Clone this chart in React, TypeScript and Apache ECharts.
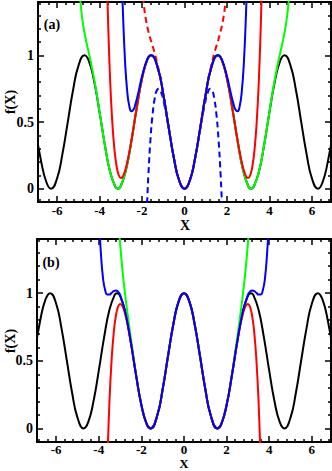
import React, { useEffect, useRef } from "react";
import * as echarts from "echarts";

type Pt = [number, number];

const xMajorTicks = [-6, -4, -2, 0, 2, 4, 6];
const xMinorTicks = [-6.8, -6.4, -5.6, -5.2, -4.8, -4.4, -3.6, -3.2, -2.8, -2.4, -1.6, -1.2, -0.8, -0.4, 0.4, 0.8, 1.2, 1.6, 2.4, 2.8, 3.2, 3.6, 4.4, 4.8, 5.2, 5.6, 6.4, 6.8];
const yMajorTicks = [0, 0.5, 1];
const yMinorTicks = [0.1, 0.2, 0.3, 0.4, 0.6, 0.7, 0.8, 0.9, 1.1, 1.2, 1.3];

// ---------- Panel (a) ----------
const blackA: Pt[] = [
  [-7, 0.4316], [-6.75, 0.2025], [-6.5, 0.0463], [-6.2832, 0], [-6, 0.0781], [-5.75, 0.2601], [-5.5, 0.4977], [-5.25, 0.7377], [-5, 0.9195], [-4.7124, 1], [-4.5, 0.9555], [-4.25, 0.801], [-4, 0.5728], [-3.75, 0.3267], [-3.5, 0.1231], [-3.25, 0.0117], [-3.1416, 0], [-3, 0.0199], [-2.75, 0.1457], [-2.5, 0.3582], [-2.25, 0.6054], [-2, 0.8268], [-1.75, 0.9683], [-1.5708, 1], [-1.25, 0.9006], [-1, 0.7081], [-0.75, 0.4646], [-0.5, 0.2298], [-0.25, 0.0612],
  [0, 0],
  [0.25, 0.0612], [0.5, 0.2298], [0.75, 0.4646], [1, 0.7081], [1.25, 0.9006], [1.5708, 1], [1.75, 0.9683], [2, 0.8268], [2.25, 0.6054], [2.5, 0.3582], [2.75, 0.1457], [3, 0.0199], [3.1416, 0], [3.25, 0.0117], [3.5, 0.1231], [3.75, 0.3267], [4, 0.5728], [4.25, 0.801], [4.5, 0.9555], [4.7124, 1], [5, 0.9195], [5.25, 0.7377], [5.5, 0.4977], [5.75, 0.2601], [6, 0.0781], [6.2832, 0], [6.5, 0.0463], [6.75, 0.2025], [7, 0.4316],
];

const greenA: Pt[] = [
  [-5, 1.6161], [-4.9, 1.3965], [-4.8, 1.2567], [-4.7, 1.1602], [-4.6, 1.0836], [-4.5, 1.0126], [-4.4, 0.939], [-4.2, 0.7707], [-4, 0.5763], [-3.75, 0.3274], [-3.5, 0.1231], [-3.25, 0.0117], [-3.1416, 0], [-3, 0.0199], [-2.75, 0.1457], [-2.5, 0.3582], [-2.25, 0.6054], [-2, 0.8268], [-1.75, 0.9683], [-1.5708, 1], [-1.25, 0.9006], [-1, 0.7081], [-0.75, 0.4646], [-0.5, 0.2298], [-0.25, 0.0612],
  [0, 0],
  [0.25, 0.0612], [0.5, 0.2298], [0.75, 0.4646], [1, 0.7081], [1.25, 0.9006], [1.5708, 1], [1.75, 0.9683], [2, 0.8268], [2.25, 0.6054], [2.5, 0.3582], [2.75, 0.1457], [3, 0.0199], [3.1416, 0], [3.25, 0.0117], [3.5, 0.1231], [3.75, 0.3274], [4, 0.5763], [4.2, 0.7707], [4.4, 0.939], [4.5, 1.0126], [4.6, 1.0836], [4.7, 1.1602], [4.8, 1.2567], [4.9, 1.3965], [5, 1.6161],
];

const redA: Pt[] = [
  [-3.65, 1.5548], [-3.6, 1.257], [-3.5, 0.8049], [-3.4, 0.4976], [-3.3, 0.2952], [-3.2, 0.1699], [-3.1, 0.1027], [-3, 0.0801], [-2.9, 0.0925], [-2.75, 0.1609], [-2.5, 0.3616], [-2.25, 0.6061], [-2, 0.8269], [-1.75, 0.9683], [-1.5708, 1], [-1.25, 0.9006], [-1, 0.7081], [-0.75, 0.4646], [-0.5, 0.2298], [-0.25, 0.0612],
  [0, 0],
  [0.25, 0.0612], [0.5, 0.2298], [0.75, 0.4646], [1, 0.7081], [1.25, 0.9006], [1.5708, 1], [1.75, 0.9683], [2, 0.8269], [2.25, 0.6061], [2.5, 0.3616], [2.75, 0.1609], [2.9, 0.0925], [3, 0.0801], [3.1, 0.1027], [3.2, 0.1699], [3.3, 0.2952], [3.4, 0.4976], [3.5, 0.8049], [3.6, 1.257], [3.65, 1.5548],
];

const blueA: Pt[] = [
  [-2.95, 1.5843], [-2.9, 1.3256], [-2.8, 0.9542], [-2.7, 0.7329], [-2.6, 0.6194], [-2.5, 0.5813], [-2.4, 0.5944], [-2.3, 0.6398], [-2.2, 0.7032], [-2.1, 0.7737], [-2, 0.8429], [-1.75, 0.9715], [-1.5708, 1.0009], [-1.25, 0.9007], [-1, 0.7081], [-0.75, 0.4646], [-0.5, 0.2298], [-0.25, 0.0612],
  [0, 0],
  [0.25, 0.0612], [0.5, 0.2298], [0.75, 0.4646], [1, 0.7081], [1.25, 0.9007], [1.5708, 1.0009], [1.75, 0.9715], [2, 0.8429], [2.1, 0.7737], [2.2, 0.7032], [2.3, 0.6398], [2.4, 0.5944], [2.5, 0.5813], [2.6, 0.6194], [2.7, 0.7329], [2.8, 0.9542], [2.9, 1.3256], [2.95, 1.5843],
];

const dashBlueA: Pt[] = [
  [-1.8, -0.2592], [-1.75, -0.0638], [-1.7, 0.106], [-1.6, 0.3755], [-1.5, 0.5625], [-1.4, 0.6795], [-1.3, 0.738], [-1.2, 0.7488], [-1.1, 0.722], [-1, 0.6667], [-0.75, 0.457], [-0.5, 0.2292], [-0.25, 0.0612],
  [0, 0],
  [0.25, 0.0612], [0.5, 0.2292], [0.75, 0.457], [1, 0.6667], [1.1, 0.722], [1.2, 0.7488], [1.3, 0.738], [1.4, 0.6795], [1.5, 0.5625], [1.6, 0.3755], [1.7, 0.106], [1.75, -0.0638], [1.8, -0.2592],
];

const dashRedA: Pt[] = [
  [-2, 1.5111], [-1.9, 1.3569], [-1.8, 1.2524], [-1.7, 1.1788], [-1.6, 1.1212], [-1.5, 1.0688], [-1.4, 1.0141], [-1.3, 0.9525], [-1.2, 0.8815], [-1.1, 0.8007], [-1, 0.7111], [-0.75, 0.4649], [-0.5, 0.2299], [-0.25, 0.0612],
  [0, 0],
  [0.25, 0.0612], [0.5, 0.2299], [0.75, 0.4649], [1, 0.7111], [1.1, 0.8007], [1.2, 0.8815], [1.3, 0.9525], [1.4, 1.0141], [1.5, 1.0688], [1.6, 1.1212], [1.7, 1.1788], [1.8, 1.2524], [1.9, 1.3569], [2, 1.5111],
];

// ---------- Panel (b) ----------
const blackB: Pt[] = [
  [-7, 0.5684], [-6.75, 0.7975], [-6.5, 0.9537], [-6.2832, 1], [-6, 0.9219], [-5.75, 0.7399], [-5.5, 0.5023], [-5.25, 0.2623], [-5, 0.0805], [-4.7124, 0], [-4.5, 0.0445], [-4.25, 0.199], [-4, 0.4272], [-3.75, 0.6733], [-3.5, 0.8769], [-3.25, 0.9883], [-3.1416, 1], [-3, 0.9801], [-2.75, 0.8543], [-2.5, 0.6418], [-2.25, 0.3946], [-2, 0.1732], [-1.75, 0.0317], [-1.5708, 0], [-1.25, 0.0994], [-1, 0.2919], [-0.75, 0.5354], [-0.5, 0.7702], [-0.25, 0.9388],
  [0, 1],
  [0.25, 0.9388], [0.5, 0.7702], [0.75, 0.5354], [1, 0.2919], [1.25, 0.0994], [1.5708, 0], [1.75, 0.0317], [2, 0.1732], [2.25, 0.3946], [2.5, 0.6418], [2.75, 0.8543], [3, 0.9801], [3.1416, 1], [3.25, 0.9883], [3.5, 0.8769], [3.75, 0.6733], [4, 0.4272], [4.25, 0.199], [4.5, 0.0445], [4.7124, 0], [5, 0.0805], [5.25, 0.2623], [5.5, 0.5023], [5.75, 0.7399], [6, 0.9219], [6.2832, 1], [6.5, 0.9537], [6.75, 0.7975], [7, 0.5684],
];

const greenB: Pt[] = [
  [-3.05, 1.4807], [-3, 1.3694], [-2.9, 1.1871], [-2.8, 1.0386], [-2.7, 0.9088], [-2.6, 0.7886], [-2.5, 0.6735], [-2.25, 0.402], [-2, 0.1746], [-1.75, 0.0319], [-1.5708, 0], [-1.25, 0.0994], [-1, 0.2919], [-0.75, 0.5354], [-0.5, 0.7702], [-0.25, 0.9388],
  [0, 1],
  [0.25, 0.9388], [0.5, 0.7702], [0.75, 0.5354], [1, 0.2919], [1.25, 0.0994], [1.5708, 0], [1.75, 0.0319], [2, 0.1746], [2.25, 0.402], [2.5, 0.6735], [2.6, 0.7886], [2.7, 0.9088], [2.8, 1.0386], [2.9, 1.1871], [3, 1.3694], [3.05, 1.4807],
];

const redB: Pt[] = [
  [-3.65, -0.5548], [-3.6, -0.257], [-3.5, 0.1952], [-3.4, 0.5024], [-3.3, 0.7048], [-3.2, 0.8301], [-3.1, 0.8973], [-3, 0.9199], [-2.9, 0.9075], [-2.75, 0.8391], [-2.5, 0.6384], [-2.25, 0.3939], [-2, 0.1731], [-1.75, 0.0317], [-1.5708, 0], [-1.25, 0.0994], [-1, 0.2919], [-0.75, 0.5354], [-0.5, 0.7702], [-0.25, 0.9388],
  [0, 1],
  [0.25, 0.9388], [0.5, 0.7702], [0.75, 0.5354], [1, 0.2919], [1.25, 0.0994], [1.5708, 0], [1.75, 0.0317], [2, 0.1731], [2.25, 0.3939], [2.5, 0.6384], [2.75, 0.8391], [2.9, 0.9075], [3, 0.9199], [3.1, 0.8973], [3.2, 0.8301], [3.3, 0.7048], [3.4, 0.5024], [3.5, 0.1952], [3.6, -0.257], [3.65, -0.5548],
];

const blueB: Pt[] = [
  [-3.95, 1.4353], [-3.9, 1.293], [-3.8, 1.1091], [-3.7, 1.0206], [-3.6, 0.9895], [-3.5, 0.9893], [-3.4, 1.0018], [-3.3, 1.0146], [-3.2, 1.0194], [-3.1, 1.0113], [-3, 0.9873], [-2.75, 0.8559], [-2.5, 0.6421], [-2.25, 0.3946], [-2, 0.1732], [-1.75, 0.0317], [-1.5708, 0], [-1.25, 0.0994], [-1, 0.2919], [-0.75, 0.5354], [-0.5, 0.7702], [-0.25, 0.9388],
  [0, 1],
  [0.25, 0.9388], [0.5, 0.7702], [0.75, 0.5354], [1, 0.2919], [1.25, 0.0994], [1.5708, 0], [1.75, 0.0317], [2, 0.1732], [2.25, 0.3946], [2.5, 0.6421], [2.75, 0.8559], [3, 0.9873], [3.1, 1.0113], [3.2, 1.0194], [3.3, 1.0146], [3.4, 1.0018], [3.5, 0.9893], [3.6, 0.9895], [3.7, 1.0206], [3.8, 1.1091], [3.9, 1.293], [3.95, 1.4353],
];

const FONT = "'Liberation Serif', 'DejaVu Serif', serif";
const BLACK = "#000000";
const GREEN = "#00ff00";
const RED = "#ff0000";
const BLUE = "#0000ff";

function makeX(grid: number, position: "bottom" | "top", ticks: number[], len: number, showLine: boolean, showLabel: boolean, margin = 2) {
  return {
    type: "value",
    gridIndex: grid,
    position,
    min: -6.9,
    max: 6.9,
    axisLine: { show: showLine, onZero: false, lineStyle: { color: BLACK, width: 2 } },
    axisTick: { show: true, inside: true, length: len, customValues: ticks, lineStyle: { color: BLACK, width: 1.5 } },
    axisLabel: showLabel
      ? { show: true, customValues: xMajorTicks, margin, color: BLACK, fontFamily: FONT, fontWeight: "bold", fontSize: 13 }
      : { show: false },
    splitLine: { show: false },
  };
}

function makeY(grid: number, position: "left" | "right", ticks: number[], len: number, showLine: boolean, showLabel: boolean) {
  return {
    type: "value",
    gridIndex: grid,
    position,
    min: -0.1,
    max: 1.4,
    axisLine: { show: showLine, onZero: false, lineStyle: { color: BLACK, width: 2 } },
    axisTick: { show: true, inside: true, length: len, customValues: ticks, lineStyle: { color: BLACK, width: 1.5 } },
    axisLabel: showLabel
      ? { show: true, customValues: yMajorTicks, margin: 4, color: BLACK, fontFamily: FONT, fontWeight: "bold", fontSize: 14 }
      : { show: false },
    splitLine: { show: false },
  };
}

function line(data: Pt[], color: string, axisIdx: number, dashed = false) {
  return {
    type: "line",
    data,
    xAxisIndex: axisIdx,
    yAxisIndex: axisIdx,
    smooth: true,
    showSymbol: false,
    symbol: "none",
    clip: true,
    lineStyle: { color, width: 2, type: dashed ? [6, 4] : "solid" },
    emphasis: { disabled: true },
  };
}

export default function App() {
  const ref = useRef<HTMLDivElement>(null);

  useEffect(() => {
    if (!ref.current) return;
    const chart = echarts.init(ref.current, undefined, { renderer: "svg" });
    const xAxes: any[] = [];
    const yAxes: any[] = [];
    for (let g = 0; g < 2; g++) {
      xAxes.push(makeX(g, "bottom", xMajorTicks, 6, true, true, g === 0 ? 2 : 1));
      xAxes.push(makeX(g, "bottom", xMinorTicks, 3, false, false));
      xAxes.push(makeX(g, "top", xMajorTicks, 6, true, false));
      xAxes.push(makeX(g, "top", xMinorTicks, 3, false, false));
      yAxes.push(makeY(g, "left", yMajorTicks, 6, true, true));
      yAxes.push(makeY(g, "left", yMinorTicks, 3, false, false));
      yAxes.push(makeY(g, "right", yMajorTicks, 6, true, false));
      yAxes.push(makeY(g, "right", yMinorTicks, 3, false, false));
    }
    const textStyle = (text: string, size: number) => ({
      text,
      fill: BLACK,
      font: `bold ${size}px ${FONT}`,
      textAlign: "center",
      textVerticalAlign: "middle",
    });
    chart.setOption({
      animation: false,
      backgroundColor: "#ffffff",
      grid: [
        { left: 38, top: 2, width: 293, height: 200 },
        { left: 37, top: 239, width: 294, height: 203 },
      ],
      xAxis: xAxes,
      yAxis: yAxes,
      series: [
        line(blackA, BLACK, 0),
        line(dashBlueA, BLUE, 0, true),
        line(dashRedA, RED, 0, true),
        line(greenA, GREEN, 0),
        line(redA, RED, 0),
        line(blueA, BLUE, 0),
        line(blackB, BLACK, 4),
        line(greenB, GREEN, 4),
        line(redB, RED, 4),
        line(blueB, BLUE, 4),
      ],
      graphic: [
        { type: "text", x: 52, y: 24, style: textStyle("(a)", 14) },
        { type: "text", x: 51, y: 262, style: textStyle("(b)", 14) },
        { type: "text", x: 185, y: 225, style: textStyle("X", 14) },
        { type: "text", x: 184, y: 463.5, style: textStyle("X", 13) },
        { type: "text", x: 10, y: 102, rotation: Math.PI / 2, style: textStyle("f(X)", 14) },
        { type: "text", x: 10, y: 341, rotation: Math.PI / 2, style: textStyle("f(X)", 14) },
      ],
    });
    return () => chart.dispose();
  }, []);

  return (
    <div
      ref={ref}
      style={{ position: "fixed", left: 0, top: 0, width: 332, height: 471, background: "#fff" }}
    />
  );
}
